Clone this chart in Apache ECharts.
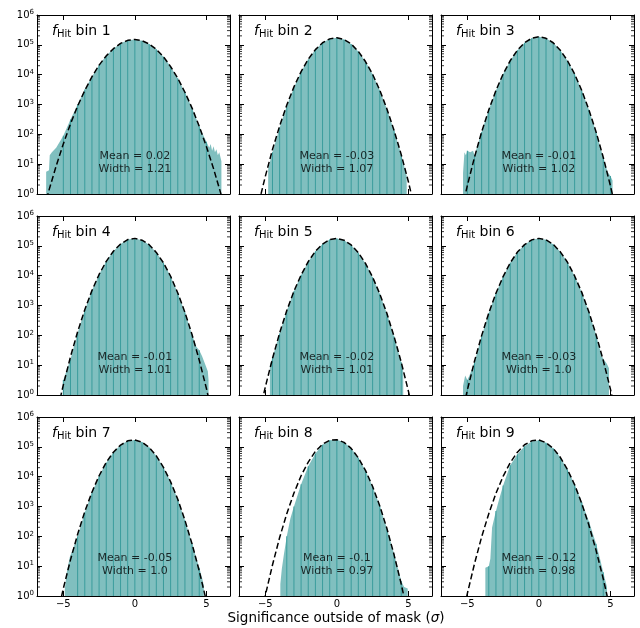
<!DOCTYPE html>
<html><head><meta charset="utf-8">
<script src="https://cdn.jsdelivr.net/npm/echarts@6/dist/echarts.min.js"></script>
<style>html,body{margin:0;padding:0;background:#fff}#c{width:640px;height:628px}</style>
</head><body><div id="c"></div>
<script>
// ---- data (log10 of counts) ----
const binNames = ['1','2','3','4','5','6','7','8','9'];
const means = ['0.02','-0.03','-0.01','-0.01','-0.02','-0.03','-0.05','-0.1','-0.12'];
const widths = ['1.21','1.07','1.02','1.01','1.01','1.0','1.0','0.97','0.98'];
const xTicks = [-5, 0, 5];
const yTicks = [0, 1, 2, 3, 4, 5, 6];
const curveX = [-6.5,-6,-5.5,-5,-4.5,-4,-3.5,-3,-2.5,-2,-1.5,-1,-0.5,0,0.5,1,1.5,2,2.5,3,3.5,4,4.5,5,5.5,6,6.5];
const curve1 = [-0.75,0.13,0.94,1.68,2.35,2.95,3.47,3.93,4.32,4.63,4.87,5.05,5.15,5.18,5.14,5.03,4.85,4.60,4.27,3.88,3.41,2.88,2.27,1.59,0.85,0.03,-0.86];
const curve2 = [-2.65,-1.47,-0.39,0.59,1.49,2.28,2.98,3.59,4.10,4.52,4.84,5.07,5.20,5.24,5.18,5.03,4.78,4.44,4.01,3.48,2.85,2.13,1.32,0.41,-0.60,-1.70,-2.89];
const curve3 = [-3.16,-1.92,-0.77,0.28,1.23,2.08,2.82,3.47,4.02,4.47,4.82,5.07,5.22,5.27,5.22,5.07,4.82,4.47,4.02,3.47,2.82,2.08,1.23,0.28,-0.77,-1.92,-3.16];
const curve4 = [-3.07,-1.84,-0.70,0.34,1.28,2.12,2.86,3.50,4.04,4.48,4.82,5.06,5.21,5.25,5.19,5.04,4.78,4.43,3.98,3.42,2.77,2.02,1.17,0.22,-0.83,-1.98,-3.23];
const curve5 = [-3.19,-1.93,-0.78,0.27,1.22,2.08,2.83,3.48,4.02,4.47,4.82,5.06,5.21,5.25,5.19,5.03,4.77,4.41,3.95,3.39,2.73,1.96,1.10,0.13,-0.94,-2.10,-3.37];
const curve6 = [-3.34,-2.07,-0.90,0.16,1.13,1.99,2.75,3.41,3.97,4.43,4.79,5.04,5.20,5.25,5.20,5.05,4.80,4.45,3.99,3.44,2.78,2.02,1.16,0.20,-0.86,-2.02,-3.29];
const curve7 = [-3.27,-1.99,-0.82,0.25,1.21,2.07,2.83,3.48,4.03,4.48,4.82,5.06,5.20,5.23,5.16,4.98,4.70,4.31,3.83,3.24,2.54,1.74,0.84,-0.17,-1.28,-2.49,-3.81];
const curve8 = [-3.73,-2.37,-1.12,0.02,1.04,1.96,2.76,3.45,4.03,4.49,4.85,5.09,5.22,5.24,5.15,4.95,4.63,4.21,3.67,3.02,2.26,1.38,0.40,-0.70,-1.90,-3.22,-4.66];
const curve9 = [-3.58,-2.25,-1.03,0.08,1.08,1.98,2.76,3.44,4.01,4.47,4.82,5.07,5.20,5.23,5.14,4.95,4.65,4.24,3.73,3.10,2.37,1.53,0.58,-0.48,-1.65,-2.93,-4.31];
const hist1 = [[-6.2,0],[-6.2,0.75],[-6.0,0.8],[-5.95,1.3],[-5.8,1.4],[-5.5,1.55],[-5.0,1.95],[-4.5,2.5],[-4.0,3.0],[-3.5,3.5],[-3.0,3.93],[-2.5,4.32],[-2.0,4.63],[-1.5,4.87],[-1.0,5.05],[-0.5,5.15],[0,5.18],[0.5,5.14],[1.0,5.03],[1.5,4.85],[2.0,4.60],[2.5,4.27],[3.0,3.88],[3.5,3.41],[4.0,2.88],[4.5,2.27],[4.8,1.95],[5.0,1.75],[5.1,1.7],[5.2,1.55],[5.3,1.68],[5.4,1.45],[5.5,1.6],[5.6,1.4],[5.7,1.5],[5.8,1.3],[5.9,1.4],[6.0,1.2],[6.05,1.1],[6.05,0]];
const hist2 = [[-4.8,0],[-4.8,0.85],[-4.5,1.4],[-4.0,2.22],[-3.5,2.95],[-3.0,3.57],[-2.5,4.09],[-2.0,4.51],[-1.5,4.84],[-1.0,5.07],[-0.5,5.20],[0,5.24],[0.5,5.18],[1.0,5.03],[1.5,4.78],[2.0,4.44],[2.5,4.01],[3.0,3.48],[3.5,2.85],[4.0,2.13],[4.5,1.32],[4.88,0.6],[4.88,0]];
const hist3 = [[-5.3,0],[-5.3,0.7],[-5.2,1.4],[-5.1,1.3],[-5.0,1.45],[-4.8,1.4],[-4.6,1.45],[-4.5,1.3],[-4.0,2.08],[-3.5,2.82],[-3.0,3.47],[-2.5,4.02],[-2.0,4.47],[-1.5,4.82],[-1.0,5.07],[-0.5,5.22],[0,5.27],[0.5,5.22],[1.0,5.07],[1.5,4.82],[2.0,4.47],[2.5,4.02],[3.0,3.47],[3.5,2.82],[4.0,2.08],[4.5,1.23],[4.8,0.75],[5.0,0.6],[5.15,0.45],[5.15,0]];
const hist4 = [[-5.0,0],[-5.0,0.5],[-4.5,1.2],[-4.0,2.08],[-3.5,2.84],[-3.0,3.50],[-2.5,4.04],[-2.0,4.48],[-1.5,4.82],[-1.0,5.06],[-0.5,5.21],[0,5.25],[0.5,5.19],[1.0,5.04],[1.5,4.78],[2.0,4.43],[2.5,3.98],[3.0,3.42],[3.5,2.77],[4.0,2.02],[4.3,1.62],[4.5,1.5],[4.7,1.3],[4.9,1.05],[5.1,0.8],[5.15,0.5],[5.15,0]];
const hist5 = [[-4.68,0],[-4.68,1.0],[-4.5,1.25],[-4.0,2.06],[-3.5,2.82],[-3.0,3.48],[-2.5,4.02],[-2.0,4.47],[-1.5,4.82],[-1.0,5.06],[-0.5,5.21],[0,5.25],[0.5,5.19],[1.0,5.03],[1.5,4.77],[2.0,4.41],[2.5,3.95],[3.0,3.39],[3.5,2.73],[4.0,1.96],[4.5,1.1],[4.64,0.8],[4.64,0]];
const hist6 = [[-5.3,0],[-5.3,0.3],[-5.2,0.35],[-5.15,0.65],[-5.0,0.5],[-4.85,0.65],[-4.5,1.1],[-4.0,1.97],[-3.5,2.75],[-3.0,3.41],[-2.5,3.97],[-2.0,4.43],[-1.5,4.79],[-1.0,5.04],[-0.5,5.20],[0,5.25],[0.5,5.20],[1.0,5.05],[1.5,4.80],[2.0,4.45],[2.5,3.99],[3.0,3.44],[3.5,2.78],[4.0,2.02],[4.4,1.3],[4.6,1.15],[4.75,1.05],[4.9,0.9],[4.9,0]];
const hist7 = [[-4.9,0],[-4.9,0.2],[-4.78,0.75],[-4.55,1.3],[-4.0,2.0],[-3.5,2.8],[-3.0,3.46],[-2.5,4.02],[-2.0,4.47],[-1.5,4.82],[-1.0,5.06],[-0.5,5.20],[0,5.23],[0.5,5.16],[1.0,4.98],[1.5,4.70],[2.0,4.31],[2.5,3.83],[3.0,3.24],[3.5,2.54],[4.0,1.75],[4.5,0.95],[4.7,0.6],[4.82,0.35],[4.82,0]];
const hist8 = [[-3.95,0],[-3.95,0.4],[-3.85,0.9],[-3.7,1.4],[-3.5,2.0],[-3.25,2.6],[-3.0,3.0],[-2.5,3.75],[-2.0,4.35],[-1.5,4.78],[-1.0,5.07],[-0.5,5.22],[0,5.24],[0.5,5.15],[1.0,4.95],[1.5,4.63],[2.0,4.21],[2.5,3.67],[3.0,3.02],[3.5,2.26],[4.0,1.42],[4.5,0.5],[4.7,0.3],[4.95,0.25],[4.95,0]];
const hist9 = [[-3.74,0],[-3.74,0.95],[-3.5,1.0],[-3.39,1.25],[-3.27,2.3],[-3.0,2.85],[-2.8,3.2],[-2.5,3.7],[-2.0,4.38],[-1.5,4.75],[-1.0,5.02],[-0.5,5.18],[0,5.22],[0.5,5.14],[1.0,4.95],[1.5,4.65],[2.0,4.24],[2.5,3.75],[3.0,3.15],[3.5,2.5],[4.0,1.75],[4.3,1.2],[4.5,0.8],[4.76,0.3],[4.76,0]];

const curves = [curve1,curve2,curve3,curve4,curve5,curve6,curve7,curve8,curve9];
const hists = [hist1,hist2,hist3,hist4,hist5,hist6,hist7,hist8,hist9];

// ---- layout / style ----
const FONT = 'DejaVu Sans';
const colLeft = [37, 239, 441], rowTop = [15, 216, 417], W = 193, H = 179;
const xMin = -6.84, xMax = 6.65;
const FILL = '#80bfbf', EDGE = '#3a9c9c';
const minorVals = [];
for (let n = 0; n < 6; n++) for (let k = 2; k <= 9; k++) minorVals.push(n + Math.log10(k));
const MINOR_LEN = 3;                                   // px
const minorShift = (MINOR_LEN / 2) * (xMax - xMin) / W; // half a tick, in x units
const fmtX = v => v < 0 ? '\u2212' + Math.abs(v) : String(v);

const grid = [], xAxis = [], yAxis = [], series = [], title = [];
for (let i = 0; i < 9; i++) {
  const r = Math.floor(i / 3), c = i % 3;
  grid.push({left: colLeft[c], top: rowTop[r], width: W, height: H, show: false});
  const xi = xAxis.length;
  const mkLine = () => ({show: true, onZero: false, lineStyle: {color: '#000', width: 1}});
  xAxis.push({type: 'value', gridIndex: i, min: xMin, max: xMax, position: 'bottom',
    axisLine: mkLine(), splitLine: {show: false},
    axisTick: {inside: true, length: 5, customValues: xTicks, lineStyle: {color: '#000'}},
    axisLabel: {show: r === 2, customValues: xTicks, formatter: fmtX, fontFamily: FONT, fontSize: 10, color: '#000', margin: 3}});
  xAxis.push({type: 'value', gridIndex: i, min: xMin, max: xMax, position: 'top',
    axisLine: mkLine(), splitLine: {show: false},
    axisTick: {inside: true, length: 5, customValues: xTicks, lineStyle: {color: '#000'}},
    axisLabel: {show: false}});
  const yi = yAxis.length;
  ['left', 'right'].forEach(pos => {
    yAxis.push({type: 'value', gridIndex: i, min: 0, max: 6, interval: 1, position: pos,
      axisLine: mkLine(), splitLine: {show: false},
      axisTick: {inside: true, length: 5, lineStyle: {color: '#000'}},
      axisLabel: {show: pos === 'left' && c === 0, margin: 3, customValues: yTicks,
        formatter: v => '{b|10}{s|' + v + '}',
        rich: {b: {fontFamily: FONT, fontSize: 10, color: '#000', lineHeight: 12},
               s: {fontFamily: FONT, fontSize: 7, color: '#000', lineHeight: 5, verticalAlign: 'top'}}}});
  });
  const h = hists[i];
  series.push({type: 'line', xAxisIndex: xi, yAxisIndex: yi, data: h, symbol: 'none',
    lineStyle: {width: 0, opacity: 0}, areaStyle: {color: FILL, opacity: 1, origin: 'start'}, z: 1, silent: true});
  const edges = h.filter(p => Math.abs(p[0] * 2 - Math.round(p[0] * 2)) < 1e-9 && Math.abs(p[0]) <= 5 && p[1] > 0);
  series.push({type: 'bar', xAxisIndex: xi, yAxisIndex: yi, data: edges, barWidth: 1,
    itemStyle: {color: EDGE}, z: 2, silent: true});
  series.push({type: 'line', xAxisIndex: xi, yAxisIndex: yi, data: curveX.map((x, j) => [x, curves[i][j]]),
    symbol: 'none', clip: true, lineStyle: {color: '#000', width: 1.5, type: [6, 3]}, z: 3, silent: true});
  series.push({type: 'scatter', xAxisIndex: xi, yAxisIndex: yi, data: [[0, 1.04]], symbolSize: 0, z: 4, silent: true,
    label: {show: true, position: 'inside', formatter: 'Mean = ' + means[i] + '\nWidth = ' + widths[i],
      fontFamily: FONT, fontSize: 11, color: '#000', lineHeight: 13, align: 'center'}});
  // minor (log) ticks on both y sides, pointing inward
  series.push({type: 'scatter', xAxisIndex: xi, yAxisIndex: yi, data: minorVals.map(v => [xMin + minorShift, v]),
    symbol: 'rect', symbolSize: [MINOR_LEN, 1], itemStyle: {color: '#000'}, clip: false});
  series.push({type: 'scatter', xAxisIndex: xi, yAxisIndex: yi, data: minorVals.map(v => [xMax - minorShift, v]),
    symbol: 'rect', symbolSize: [MINOR_LEN, 1], itemStyle: {color: '#000'}, clip: false});
  title.push({text: '{f|f}{sub|Hit}{n| bin ' + binNames[i] + '}', left: colLeft[c] + 15, top: rowTop[r] + 8, padding: 0,
    textStyle: {fontWeight: 'normal', rich: {
      f: {fontFamily: FONT, fontStyle: 'italic', fontWeight: 'normal', fontSize: 14, color: '#000', lineHeight: 16},
      sub: {fontFamily: FONT, fontWeight: 'normal', fontSize: 10, color: '#000', lineHeight: 6, verticalAlign: 'bottom'},
      n: {fontFamily: FONT, fontWeight: 'normal', fontSize: 14, color: '#000', lineHeight: 16}}}});
}

const chart = echarts.init(document.getElementById('c'), null, {renderer: 'canvas'});
chart.setOption({
  animation: false, backgroundColor: '#fff',
  grid, xAxis, yAxis, series, title,
  graphic: [{type: 'text', x: 336, y: 618, style: {
    text: '{a|Significance outside of mask (}{i|\u03c3}{a|)}',
    rich: {a: {fontFamily: FONT, fontSize: 13.5, fill: '#000'}, i: {fontFamily: FONT, fontSize: 13.5, fontStyle: 'italic', fill: '#000'}},
    textAlign: 'center', textVerticalAlign: 'middle'}}]
});
</script></body></html>
